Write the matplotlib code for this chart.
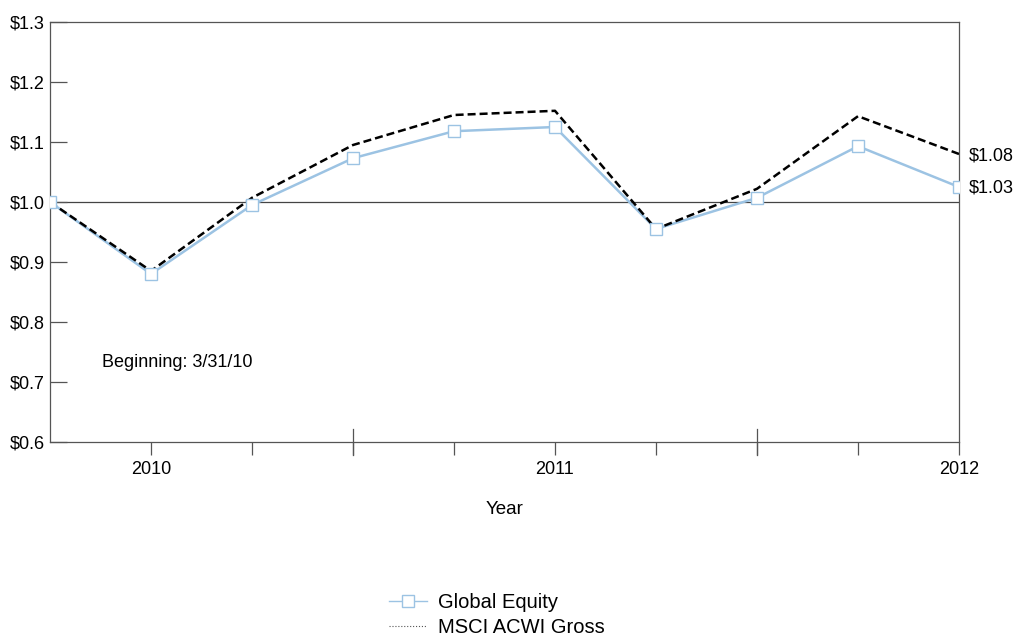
import matplotlib
matplotlib.use("Agg")
import matplotlib.pyplot as plt
from matplotlib.lines import Line2D

plt.rcParams['font.family'] = ['Liberation Sans', 'DejaVu Sans']

quarters = list(range(10))
global_equity = [1.000, 0.880, 0.995, 1.073, 1.118, 1.125, 0.955, 1.007, 1.093, 1.025]
msci_acwi = [1.000, 0.885, 1.007, 1.095, 1.145, 1.152, 0.955, 1.022, 1.143, 1.080]
tick_positions = [1, 2, 3, 4, 5, 6, 7, 8, 9]
tick_labels = ['2010', '', '', '', '2011', '', '', '', '2012']
cross_ticks = [3, 7]
y_ticks = [0.6, 0.7, 0.8, 0.9, 1.0, 1.1, 1.2, 1.3]
y_labels = ['$0.6', '$0.7', '$0.8', '$0.9', '$1.0', '$1.1', '$1.2', '$1.3']
end_labels = ['$1.08', '$1.03']

fig = plt.figure(figsize=(10.15, 6.37), dpi=100)
ax = fig.add_axes([50/1015, 1-442/637, (959-50)/1015, (442-22)/637])

blue = '#9cc3e3'
ax.axhline(1.0, color='#444444', lw=0.9, zorder=1)
ax.plot(quarters, global_equity, color=blue, lw=1.8, zorder=2)
ax.plot(quarters, msci_acwi, color='black', lw=1.8, ls=(0, (3.2, 1.6)), zorder=3)
ax.plot(quarters, global_equity, ls='none', marker='s', ms=8.5, mfc='white',
        mec=blue, mew=1.0, zorder=4)

ax.set_xlim(0, 9)
ax.set_ylim(0.6, 1.3)
ax.set_yticks(y_ticks)
ax.set_yticklabels(y_labels, fontsize=13)
ax.tick_params(axis='y', direction='in', length=12, width=0.9, color='#555555', pad=4)
ax.set_xticks(tick_positions)
ax.set_xticklabels(tick_labels, fontsize=13)
ax.tick_params(axis='x', direction='out', length=9, width=0.9, color='#555555', pad=5)
for xc in cross_ticks:
    ax.plot([xc, xc], [-0.03, 0.03], transform=ax.get_xaxis_transform(),
            color='#555555', lw=0.9, clip_on=False)

for s in ax.spines.values():
    s.set_color('#555555')
    s.set_linewidth(0.9)

ax.text(9.1, msci_acwi[-1] - 0.004, end_labels[0], fontsize=13, va='center', ha='left')
ax.text(9.1, global_equity[-1] - 0.002, end_labels[1], fontsize=13, va='center', ha='left')
ax.text(0.515, 0.733, 'Beginning: 3/31/10', fontsize=13, va='center', ha='left')

fig.text(505/1015, 1-509/637, 'Year', fontsize=13.5, ha='center', va='center')

handles = [
    Line2D([], [], color=blue, lw=1.0, marker='s', ms=8, mfc='white', mec=blue, mew=1.0),
    Line2D([], [], color='#555555', lw=0.8, ls=':'),
]
fig.legend(handles, ['Global Equity', 'MSCI ACWI Gross'], loc='center',
           bbox_to_anchor=(497/1015, 1-615/637), frameon=False, fontsize=14.5,
           handlelength=1.85, handletextpad=0.55, labelspacing=0.3, borderpad=0)

fig.savefig('out.png', dpi=100)
